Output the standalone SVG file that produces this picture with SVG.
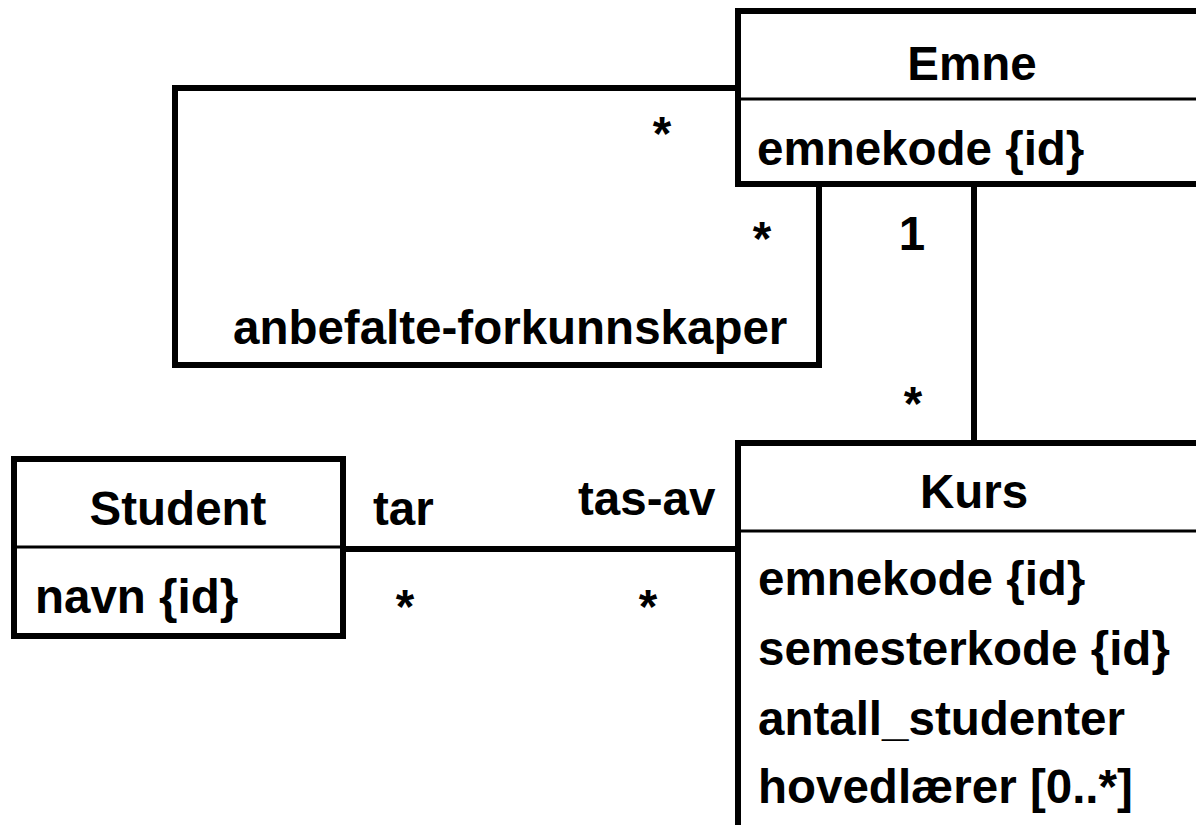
<svg xmlns="http://www.w3.org/2000/svg" width="1196" height="825" viewBox="0 0 1196 825">
  <style>
    .box { fill: #fff; stroke: #000; stroke-width: 6; }
    .div { stroke: #000; stroke-width: 3; fill: none; }
    .conn { stroke: #000; stroke-width: 6; fill: none; }
    text { font-family: "Liberation Sans", Arial, sans-serif; font-weight: bold; font-size: 47.5px; fill: #000; }
    .c { text-anchor: middle; }
  </style>
  <rect width="1196" height="825" fill="#fff"/>

  <!-- associations -->
  <g id="connectors">
    <!-- recursive association on Emne -->
    <polyline class="conn" points="738,88 175,88 175,365 819,365 819,184"/>
    <!-- Emne to Kurs -->
    <line class="conn" x1="974" y1="184" x2="974" y2="443"/>
    <!-- Student to Kurs -->
    <line class="conn" x1="343" y1="549" x2="738" y2="549"/>
    <text x="662" y="150" class="c">*</text>
    <text x="762" y="255" class="c">*</text>
    <text x="233" y="344">anbefalte-forkunnskaper</text>
    <text x="912" y="250" class="c">1</text>
    <text x="913" y="420" class="c">*</text>
    <text x="373" y="525">tar</text>
    <text x="578" y="515">tas-av</text>
    <text x="405" y="623" class="c">*</text>
    <text x="648" y="623" class="c">*</text>
  </g>

  <g id="emne">
    <rect class="box" x="738" y="11" width="480" height="173"/>
    <line class="div" x1="738" y1="99" x2="1200" y2="99"/>
    <text x="972" y="80" class="c">Emne</text>
    <text x="757" y="165">emnekode {id}</text>
  </g>

  <g id="student">
    <rect class="box" x="14" y="459" width="329" height="177"/>
    <line class="div" x1="14" y1="547" x2="343" y2="547"/>
    <text x="178" y="525" class="c">Student</text>
    <text x="35" y="613">navn {id}</text>
  </g>

  <g id="kurs">
    <rect class="box" x="738" y="443" width="480" height="400"/>
    <line class="div" x1="738" y1="531" x2="1200" y2="531"/>
    <text x="974" y="508" class="c">Kurs</text>
    <text x="758" y="595">emnekode {id}</text>
    <text x="758" y="665">semesterkode {id}</text>
    <text x="758" y="735">antall_studenter</text>
    <text x="758" y="803">hovedlærer [0..*]</text>
  </g>
</svg>
